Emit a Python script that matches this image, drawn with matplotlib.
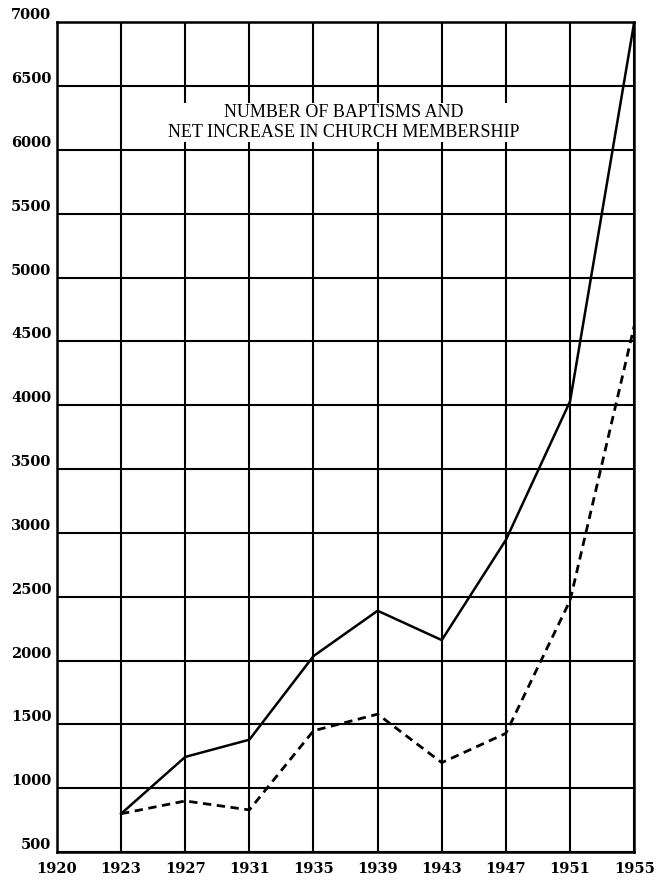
import matplotlib.pyplot as plt

years = ['1920', '1923', '1927', '1931', '1935', '1939', '1943', '1947', '1951', '1955']
# baptisms (solid) and net increase in membership (dashed), 1923..1955
baptisms = [800, 1245, 1380, 2035, 2390, 2160, 2945, 4030, 7000]
net_increase = [800, 900, 830, 1450, 1580, 1200, 1430, 2470, 4620]
y_ticks = [500, 1000, 1500, 2000, 2500, 3000, 3500, 4000, 4500, 5000, 5500, 6000, 6500, 7000]

fig = plt.figure(figsize=(6.62, 8.88), dpi=100)
ax = fig.add_axes([0.086, 0.0405, 0.872, 0.9345])

x = list(range(1, len(years)))
ax.plot(x, baptisms, color='black', lw=1.8, zorder=3)
ax.plot(x, net_increase, color='black', lw=2.0, ls=(0, (3, 2)), zorder=3)

ax.set_xlim(0, len(years) - 1)
ax.set_ylim(500, 7000)
ax.set_xticks(range(len(years)))
ax.set_xticklabels(years)
ax.set_yticks(y_ticks)
ax.set_yticklabels([str(v) for v in y_ticks])
ax.grid(True, color='black', lw=1.5)
ax.set_axisbelow(True)
for s in ax.spines.values():
    s.set_linewidth(1.8)

ax.tick_params(length=0, pad=7)
for lab in ax.get_xticklabels():
    lab.set_fontfamily('DejaVu Serif')
    lab.set_fontweight('bold')
    lab.set_fontsize(10.5)
for lab in ax.get_yticklabels():
    lab.set_fontfamily('DejaVu Serif')
    lab.set_fontweight('bold')
    lab.set_fontsize(10.5)
    lab.set_verticalalignment('bottom')
ax.tick_params(axis='y', pad=4)

ax.text(0.496, 0.879, 'NUMBER OF BAPTISMS AND\nNET INCREASE IN CHURCH MEMBERSHIP',
        transform=ax.transAxes, ha='center', va='center', fontsize=13,
        family='Liberation Serif', linespacing=1.2, zorder=4,
        bbox=dict(facecolor='white', edgecolor='none', pad=1))

fig.savefig('out.png', dpi=100)
